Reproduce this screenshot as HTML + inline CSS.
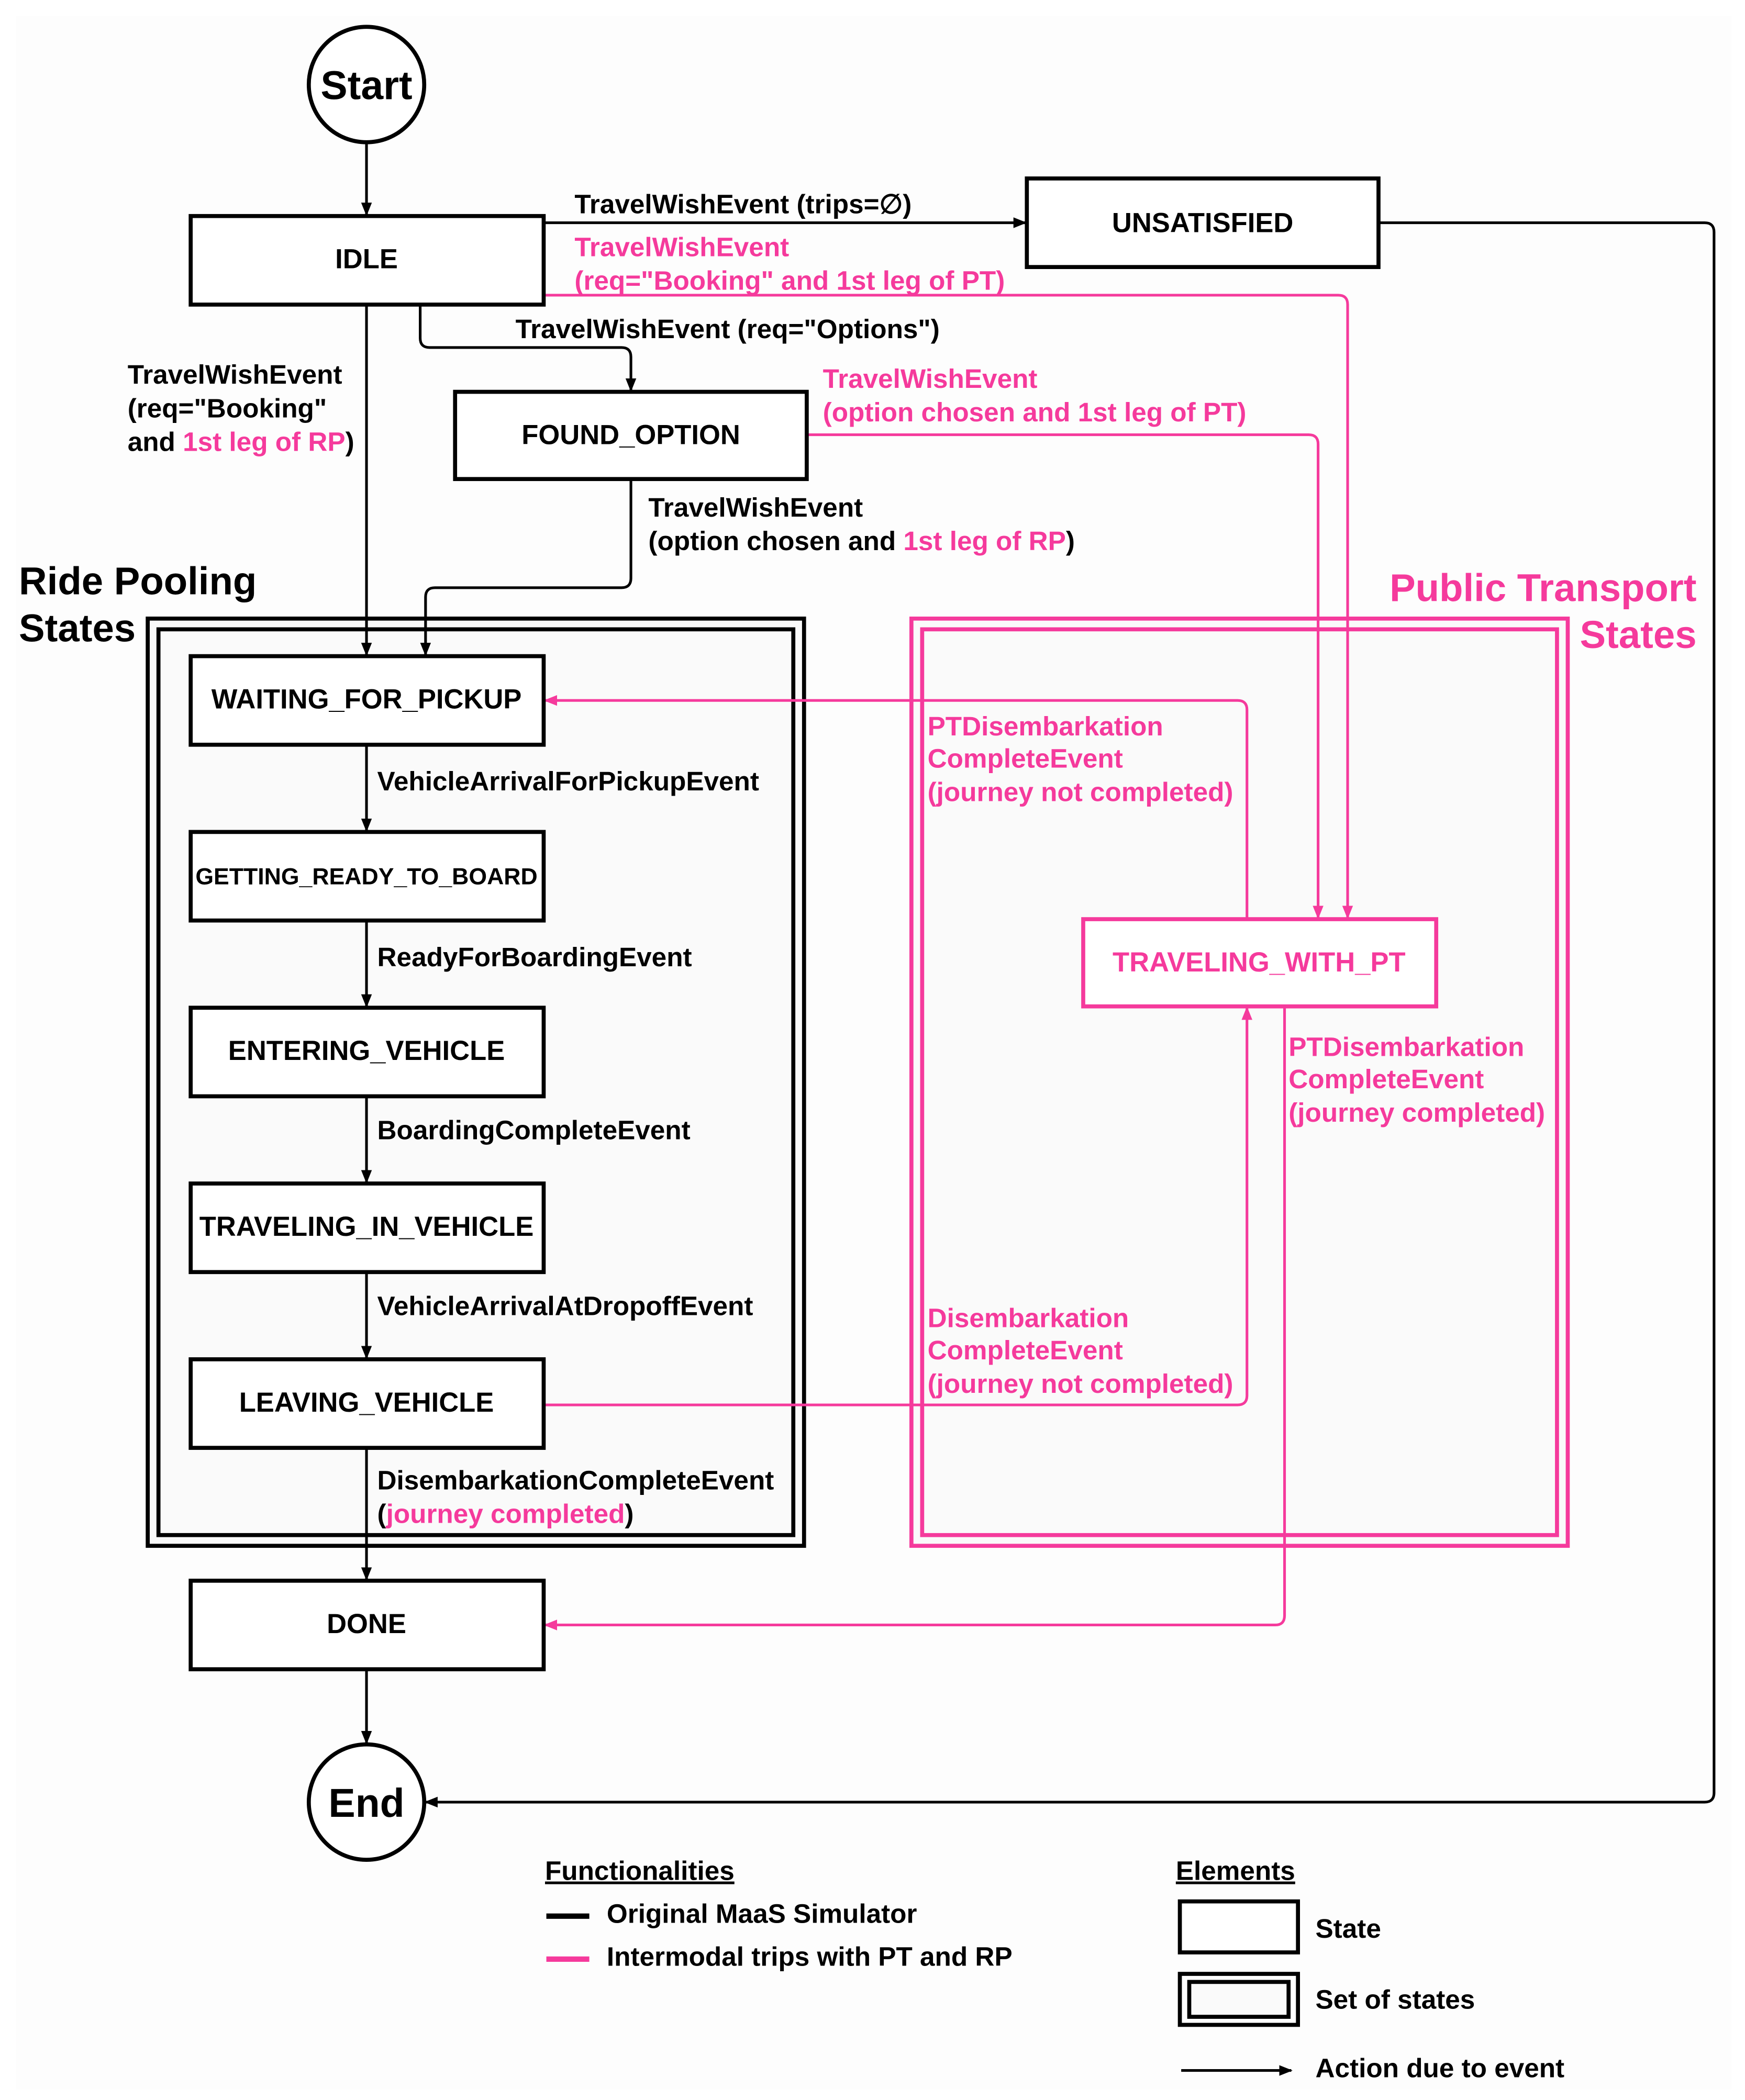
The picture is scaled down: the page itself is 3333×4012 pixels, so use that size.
<!DOCTYPE html>
<html><head><meta charset="utf-8"><style>html,body{margin:0;padding:0;background:#fff}svg{display:block}</style></head><body>
<svg width="3333" height="4012" viewBox="0 0 1300 1565" xmlns="http://www.w3.org/2000/svg" font-family="Liberation Sans, sans-serif" font-weight="bold">
<defs>
<marker id="ab" markerWidth="10" markerHeight="10" refX="9" refY="5" orient="auto" markerUnits="userSpaceOnUse"><path d="M0,1 L10,5 L0,9 z" fill="#000"/></marker>
<marker id="ap" markerWidth="10" markerHeight="10" refX="9" refY="5" orient="auto" markerUnits="userSpaceOnUse"><path d="M0,1 L10,5 L0,9 z" fill="#f53a9c"/></marker>
</defs>
<rect x="0" y="0" width="1300" height="1565" fill="#fff"/>
<rect x="12" y="12" width="1278" height="1545" fill="#fdfdfd"/>
<g fill="#fafafa">
<rect x="110" y="461" width="489" height="691" stroke="#000" stroke-width="3"/>
<rect x="118" y="469" width="473" height="675" stroke="#000" stroke-width="3"/>
<rect x="679" y="461" width="489" height="691" stroke="#f53a9c" stroke-width="3"/>
<rect x="687" y="469" width="473" height="675" stroke="#f53a9c" stroke-width="3"/>
</g>
<g fill="none" stroke="#000" stroke-width="2">
<path d="M273,106 V160" marker-end="url(#ab)"/>
<path d="M405,166 H764" marker-end="url(#ab)"/>
<path d="M1027,166 H1270 Q1277,166 1277,173 V1336 Q1277,1343 1270,1343 H317" marker-end="url(#ab)"/>
<path d="M313,227 V252 Q313,259 320,259 H463 Q470,259 470,266 V291" marker-end="url(#ab)"/>
<path d="M273,227 V488" marker-end="url(#ab)"/>
<path d="M470,357 V431 Q470,438 463,438 H324 Q317,438 317,445 V488" marker-end="url(#ab)"/>
<path d="M273,555 V619" marker-end="url(#ab)"/>
<path d="M273,686 V750" marker-end="url(#ab)"/>
<path d="M273,817 V881" marker-end="url(#ab)"/>
<path d="M273,948 V1012" marker-end="url(#ab)"/>
<path d="M273,1079 V1177" marker-end="url(#ab)"/>
<path d="M273,1244 V1299" marker-end="url(#ab)"/>
</g>
<g fill="none" stroke="#f53a9c" stroke-width="2">
<path d="M405,220 H997 Q1004,220 1004,227 V684" marker-end="url(#ap)"/>
<path d="M601,324 H975 Q982,324 982,331 V684" marker-end="url(#ap)"/>
<path d="M929,685 V529 Q929,522 922,522 H406" marker-end="url(#ap)"/>
<path d="M405,1047 H922 Q929,1047 929,1040 V751" marker-end="url(#ap)"/>
<path d="M957,750 V1204 Q957,1211 950,1211 H406" marker-end="url(#ap)"/>
</g>
<g stroke="#000" stroke-width="3" fill="#fff">
<circle cx="273" cy="63" r="43"/>
<circle cx="273" cy="1343" r="43"/>
<rect x="142" y="161" width="263" height="66"/>
<rect x="765" y="133" width="262" height="66"/>
<rect x="339" y="292" width="262" height="65"/>
<rect x="142" y="489" width="263" height="66"/>
<rect x="142" y="620" width="263" height="66"/>
<rect x="142" y="751" width="263" height="66"/>
<rect x="142" y="882" width="263" height="66"/>
<rect x="142" y="1013" width="263" height="66"/>
<rect x="142" y="1178" width="263" height="66"/>
<rect x="807" y="685" width="263" height="65" stroke="#f53a9c"/>
</g>
<g font-size="20.5" text-anchor="middle">
<text x="273" y="74" font-size="30">Start</text>
<text x="273" y="1354" font-size="30">End</text>
<text x="273" y="200">IDLE</text>
<text x="896" y="173">UNSATISFIED</text>
<text x="470" y="331">FOUND_OPTION</text>
<text x="273" y="528">WAITING_FOR_PICKUP</text>
<text x="273" y="659" font-size="17.4">GETTING_READY_TO_BOARD</text>
<text x="273" y="790">ENTERING_VEHICLE</text>
<text x="273" y="921">TRAVELING_IN_VEHICLE</text>
<text x="273" y="1052">LEAVING_VEHICLE</text>
<text x="273" y="1217">DONE</text>
<text x="938" y="724" fill="#f53a9c">TRAVELING_WITH_PT</text>
</g>
<g font-size="20">
<text x="428" y="159">TravelWishEvent (trips=∅)</text>
<text x="428" y="191" fill="#f53a9c">TravelWishEvent</text>
<text x="428" y="216" fill="#f53a9c">(req="Booking" and 1st leg of PT)</text>
<text x="384" y="252">TravelWishEvent (req="Options")</text>
<text x="95" y="286">TravelWishEvent</text>
<text x="95" y="311">(req="Booking"</text>
<text x="95" y="336">and <tspan fill="#f53a9c">1st leg of RP</tspan>)</text>
<text x="613" y="289" fill="#f53a9c">TravelWishEvent</text>
<text x="613" y="314" fill="#f53a9c">(option chosen and 1st leg of PT)</text>
<text x="483" y="385">TravelWishEvent</text>
<text x="483" y="410">(option chosen and <tspan fill="#f53a9c">1st leg of RP</tspan>)</text>
<text x="281" y="589">VehicleArrivalForPickupEvent</text>
<text x="281" y="720">ReadyForBoardingEvent</text>
<text x="281" y="849">BoardingCompleteEvent</text>
<text x="281" y="980">VehicleArrivalAtDropoffEvent</text>
<text x="281" y="1110">DisembarkationCompleteEvent</text>
<text x="281" y="1135">(<tspan fill="#f53a9c">journey completed</tspan>)</text>
<g fill="#f53a9c">
<text x="691" y="548">PTDisembarkation</text>
<text x="691" y="572">CompleteEvent</text>
<text x="691" y="597">(journey not completed)</text>
<text x="960" y="787">PTDisembarkation</text>
<text x="960" y="811">CompleteEvent</text>
<text x="960" y="836">(journey completed)</text>
<text x="691" y="989">Disembarkation</text>
<text x="691" y="1013">CompleteEvent</text>
<text x="691" y="1038">(journey not completed)</text>
</g>
</g>
<g font-size="29">
<text x="14" y="443">Ride Pooling</text>
<text x="14" y="478">States</text>
<g fill="#f53a9c" text-anchor="end"><text x="1264" y="448">Public Transport</text><text x="1264" y="483">States</text></g>
</g>
<g font-size="20">
<text x="406" y="1401" text-decoration="underline">Functionalities</text>
<line x1="407" y1="1428" x2="439" y2="1428" stroke="#000" stroke-width="4"/>
<text x="452" y="1433">Original MaaS Simulator</text>
<line x1="407" y1="1460" x2="439" y2="1460" stroke="#f53a9c" stroke-width="4"/>
<text x="452" y="1465">Intermodal trips with PT and RP</text>
<text x="876" y="1401" text-decoration="underline">Elements</text>
<rect x="879" y="1417" width="88" height="38" fill="#fff" stroke="#000" stroke-width="3"/>
<text x="980" y="1444">State</text>
<rect x="879" y="1471" width="88" height="38" fill="#fff" stroke="#000" stroke-width="3"/>
<rect x="886" y="1477" width="74" height="26" fill="#fafafa" stroke="#000" stroke-width="3"/>
<text x="980" y="1497">Set of states</text>
<line x1="880" y1="1543" x2="962" y2="1543" stroke="#000" stroke-width="2" marker-end="url(#ab)"/>
<text x="980" y="1548">Action due to event</text>
</g>
</svg>
</body></html>
